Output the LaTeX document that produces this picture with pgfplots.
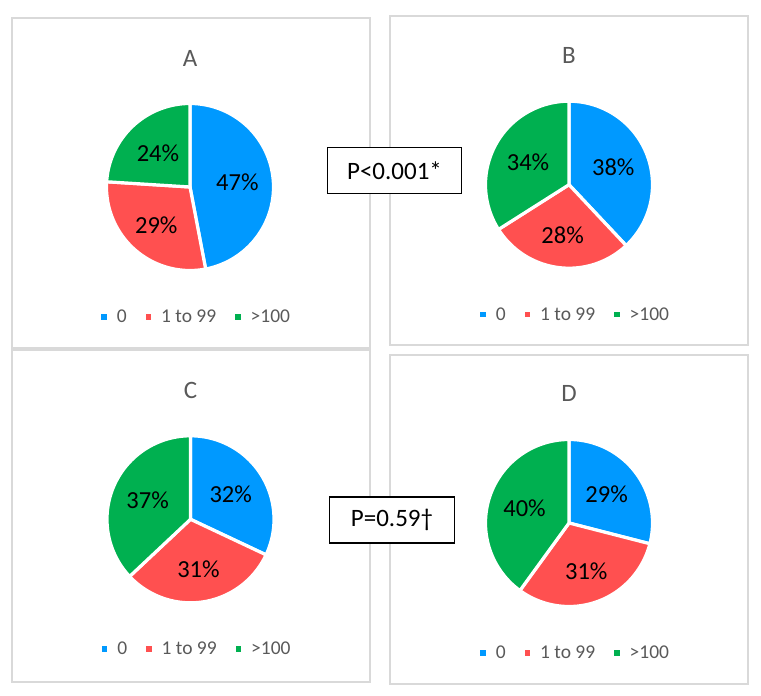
\documentclass[border=0pt]{standalone}
\usepackage{pgfplots}
\pgfplotsset{compat=1.18}
\usepackage{pgfplotstable}
\usepackage{fontspec}
\setmainfont{Carlito}
\definecolor{cblue}{RGB}{0,153,255}
\definecolor{cred}{RGB}{255,80,80}
\definecolor{cgreen}{RGB}{0,176,80}
\definecolor{tgrey}{RGB}{89,89,89}
\definecolor{bgrey}{RGB}{217,217,217}

\pgfplotstableread{
cat pct
0 47
1to99 29
>100 24
}\dataA
\pgfplotstableread{
cat pct
0 38
1to99 28
>100 34
}\dataB
\pgfplotstableread{
cat pct
0 32
1to99 31
>100 37
}\dataC
\pgfplotstableread{
cat pct
0 29
1to99 31
>100 40
}\dataD

\pgfplotsset{
  legend image code/.code={\fill[#1,draw=none] (0pt,-2.75pt) rectangle (5.5pt,2.75pt);},
  pieaxis/.style={
    anchor=center, scale only axis, width=167pt, height=167pt,
    xmin=-1, xmax=1, ymin=-1, ymax=1, hide axis, clip=false,
    legend columns=3,
    legend style={at={(0.534,-0.277)}, anchor=center, draw=none, fill=none,
      font=\fontsize{19.5}{22}\selectfont, text=tgrey,
      nodes={inner sep=0pt},
      /tikz/every odd column/.append style={column sep=10pt},
      /tikz/every even column/.append style={column sep=19pt}},
  },
  sector/.style={draw=white, line width=3.2pt, line join=round, samples=60},
}
\newcommand{\pctfont}{\fontsize{24.5}{28}\selectfont}

\newcommand{\piechart}[3]{%
  \pgfplotstablegetelem{0}{pct}\of#1\edef\pa{\pgfplotsretval}%
  \pgfplotstablegetelem{1}{pct}\of#1\edef\pb{\pgfplotsretval}%
  \pgfplotstablegetelem{2}{pct}\of#1\edef\pc{\pgfplotsretval}%
  \pgfmathsetmacro\aA{90-3.6*\pa}%
  \pgfmathsetmacro\aB{\aA-3.6*\pb}%
  \pgfmathsetmacro\aC{\aB-3.6*\pc}%
  \pgfmathsetmacro\xa{0.57*cos((90+\aA)/2)}%
  \pgfmathsetmacro\ya{0.57*sin((90+\aA)/2)}%
  \pgfmathsetmacro\xb{0.61*cos((\aA+\aB)/2)}%
  \pgfmathsetmacro\yb{0.61*sin((\aA+\aB)/2)}%
  \pgfmathsetmacro\xc{0.56*cos((\aB+\aC)/2)}%
  \pgfmathsetmacro\yc{0.56*sin((\aB+\aC)/2)}%
  \begin{axis}[pieaxis, at={(#2pt,#3pt)}]
    \addplot[sector, fill=cblue, domain=\aA:90] ({cos(x)},{sin(x)}) -- (axis cs:0,0) -- cycle;
    \addlegendentry{0}
    \addplot[sector, fill=cred, domain=\aB:\aA] ({cos(x)},{sin(x)}) -- (axis cs:0,0) -- cycle;
    \addlegendentry{1 to 99}
    \addplot[sector, fill=cgreen, domain=\aC:\aB] ({cos(x)},{sin(x)}) -- (axis cs:0,0) -- cycle;
    \addlegendentry{>100}
    \node[font=\pctfont] at (axis cs:\xa,\ya) {\pa\%};
    \node[font=\pctfont] at (axis cs:\xb,\yb) {\pb\%};
    \node[font=\pctfont] at (axis cs:\xc,\yc) {\pc\%};
  \end{axis}%
}

\begin{document}
\begin{tikzpicture}
  \path[use as bounding box] (0pt,0pt) rectangle (761pt,696pt);
  % panel frames
  \draw[bgrey, line width=1.5pt] (12pt,678pt) rectangle (370pt,348pt);
  \draw[bgrey, line width=1.5pt] (390pt,680pt) rectangle (748pt,351pt);
  \draw[bgrey, line width=1.5pt] (12pt,346pt) rectangle (370pt,14pt);
  \draw[bgrey, line width=1.5pt] (390pt,341pt) rectangle (748pt,12pt);
  % titles
  \node[anchor=base, text=tgrey, font=\fontsize{25}{28}\selectfont] at (190pt,629.5pt) {A};
  \node[anchor=base, text=tgrey, font=\fontsize{25}{28}\selectfont] at (569pt,632pt) {B};
  \node[anchor=base, text=tgrey, font=\fontsize{25}{28}\selectfont] at (190.5pt,297.7pt) {C};
  \node[anchor=base, text=tgrey, font=\fontsize{25}{28}\selectfont] at (569pt,294.3pt) {D};
  % pies
  \piechart{\dataA}{190}{509}
  \piechart{\dataB}{569}{511.3}
  \piechart{\dataC}{190.5}{176.7}
  \piechart{\dataD}{569}{173}
  % p-value boxes
  \node[draw=black, line width=1.8pt, fill=white, minimum width=134pt, minimum height=46pt,
        inner sep=0pt, font=\fontsize{25}{28}\selectfont] at (394.5pt,525.5pt) {P<0.001*};
  \node[draw=black, line width=1.8pt, fill=white, minimum width=125pt, minimum height=46pt,
        inner sep=0pt, font=\fontsize{25}{28}\selectfont] at (392pt,176pt) {P=0.59†};
\end{tikzpicture}
\end{document}
